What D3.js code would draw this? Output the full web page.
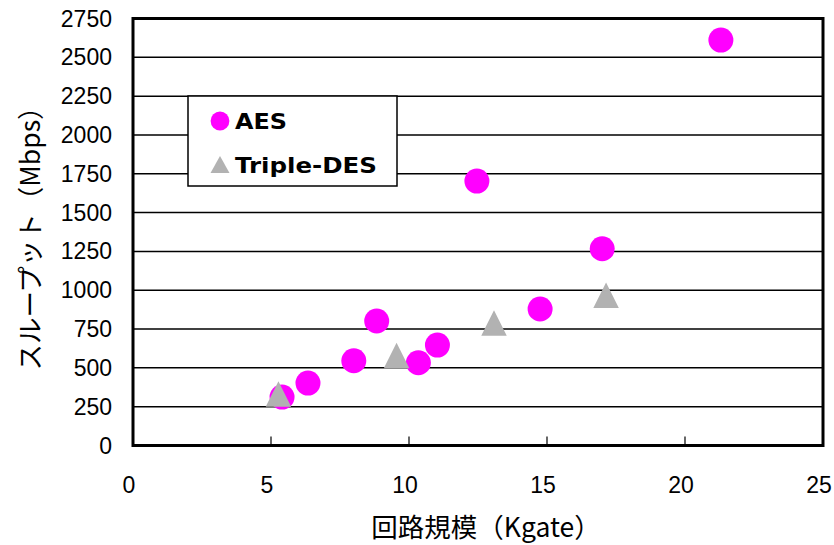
<!DOCTYPE html>
<html><head><meta charset="utf-8">
<script src="https://cdn.jsdelivr.net/npm/d3@7"></script>
<style>body{margin:0;background:#fff}svg{display:block}</style>
</head><body>
<svg id="c" width="834" height="545"></svg>
<script>
const aesX = [5.4, 6.34, 8.0, 8.83, 10.34, 11.03, 12.46, 14.75, 17.0, 21.3];
const aesY = [312, 402, 546, 802, 533, 647, 1703, 879, 1267, 2611];
const desX = [5.27, 9.55, 13.08, 17.14];
const desY = [332, 580, 789, 967];
const xTicks = [0, 5, 10, 15, 20, 25];
const yTicks = [0, 250, 500, 750, 1000, 1250, 1500, 1750, 2000, 2250, 2500, 2750];
const seriesNames = ["AES", "Triple-DES"];
const xTitle = "回路規模（Kgate）";
const yTitle = "スループット（Mbps）";

const L = 133, R = 823, T = 18.5, B = 445.5;
const svg = d3.select("#c");
const x = d3.scaleLinear().domain([0, 25]).range([L, R]);
const y = d3.scaleLinear().domain([0, 2750]).range([B, T]);
const numFont = "'Liberation Sans', Arial, sans-serif";

// gridlines
svg.append("g").selectAll("line").data(yTicks.filter(d => d > 0 && d < 2750)).join("line")
  .attr("x1", L).attr("x2", R).attr("y1", d => y(d)).attr("y2", d => y(d))
  .attr("stroke", "#000").attr("stroke-width", 1.5);

// x axis inward ticks
svg.append("g").selectAll("line").data(xTicks.filter(d => d > 0 && d < 25)).join("line")
  .attr("x1", d => x(d)).attr("x2", d => x(d)).attr("y1", B).attr("y2", B - 9)
  .attr("stroke", "#000").attr("stroke-width", 1.2);

// frame
svg.append("rect").attr("x", L).attr("y", T).attr("width", R - L).attr("height", B - T)
  .attr("fill", "none").attr("stroke", "#000").attr("stroke-width", 3);

// tick labels
svg.append("g").selectAll("text").data(yTicks).join("text")
  .attr("x", 112).attr("y", d => y(d) + 8).attr("text-anchor", "end")
  .attr("font-family", numFont).attr("font-size", 23).text(d => d);
svg.append("g").selectAll("text").data(xTicks).join("text")
  .attr("x", d => x(d) - 4).attr("y", 493).attr("text-anchor", "middle")
  .attr("font-family", numFont).attr("font-size", 23).text(d => d);

// axis titles
const cjk = "'Noto Sans CJK JP', sans-serif";
svg.append("text").attr("x", 486).attr("y", 537).attr("text-anchor", "middle")
  .attr("font-family", cjk).attr("font-size", 26.5).text(xTitle);
svg.append("text").attr("transform", "translate(40,232) rotate(-90)").attr("text-anchor", "middle")
  .attr("font-family", cjk).attr("font-size", 26.5).text(yTitle);

// markers
const tri = (s) => `M0,${-s/2}L${s/2},${s/2}L${-s/2},${s/2}Z`;
svg.append("g").selectAll("circle").data(aesX.map((v, i) => [v, aesY[i]])).join("circle")
  .attr("cx", d => x(d[0])).attr("cy", d => y(d[1])).attr("r", 12.5).attr("fill", "#ff00ff");
svg.append("g").selectAll("path").data(desX.map((v, i) => [v, desY[i]])).join("path")
  .attr("transform", d => `translate(${x(d[0])},${y(d[1])})`).attr("d", tri(25.5)).attr("fill", "#b2b2b2");

// legend
const lg = svg.append("g");
lg.append("rect").attr("x", 188).attr("y", 96).attr("width", 209).attr("height", 90)
  .attr("fill", "#fff").attr("stroke", "#000").attr("stroke-width", 1.5);
lg.append("circle").attr("cx", 220).attr("cy", 121).attr("r", 9.4).attr("fill", "#ff00ff");
lg.append("path").attr("transform", "translate(220,164.5)").attr("d", `M0,-8.5L9.5,8.5L-9.5,8.5Z`).attr("fill", "#b2b2b2");
const lf = "'DejaVu Sans', sans-serif";
lg.append("text").attr("x", 235).attr("y", 128.5).attr("font-family", lf).attr("font-weight", "bold")
  .attr("font-size", 21).attr("textLength", 52).attr("lengthAdjust", "spacingAndGlyphs").text(seriesNames[0]);
lg.append("text").attr("x", 235).attr("y", 173).attr("font-family", lf).attr("font-weight", "bold")
  .attr("font-size", 21).attr("textLength", 142).attr("lengthAdjust", "spacingAndGlyphs").text(seriesNames[1]);
</script>
</body></html>
